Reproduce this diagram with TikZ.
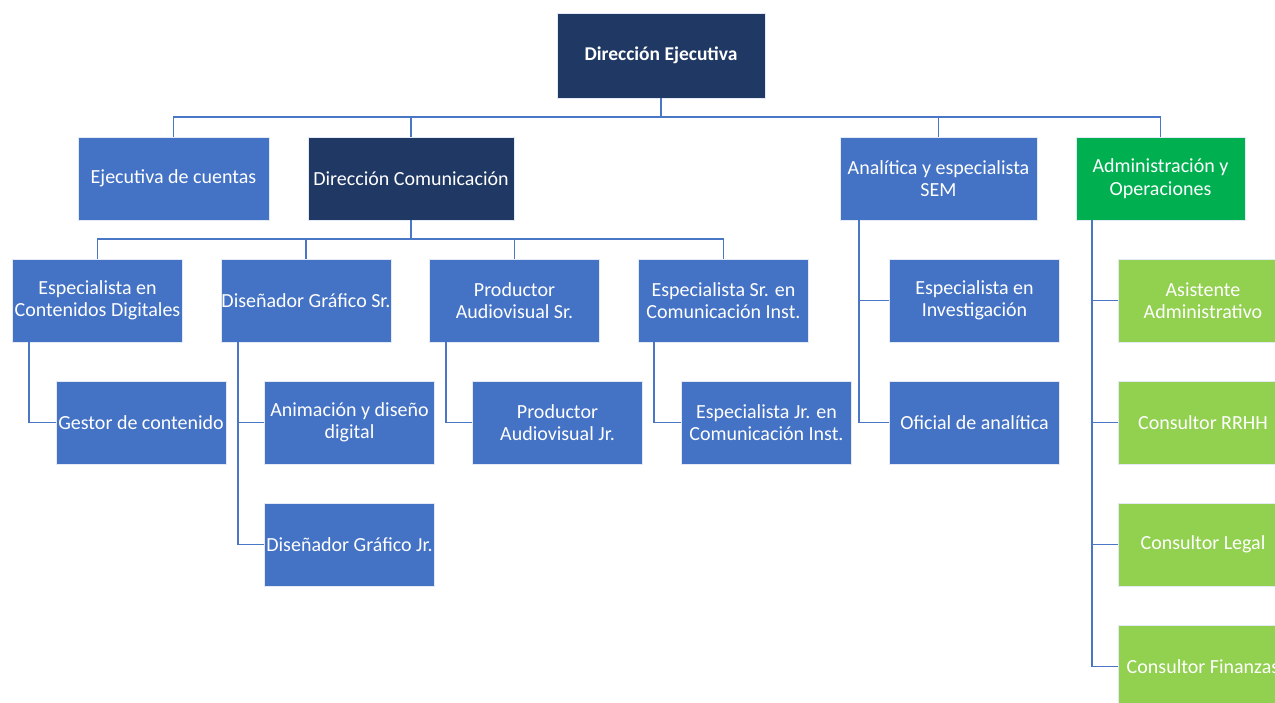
\documentclass[tikz,border=0pt]{standalone}
\usepackage{fontspec}
\setmainfont{Carlito}
\definecolor{navy}{HTML}{203864}
\definecolor{blu}{HTML}{4472C4}
\definecolor{grn}{HTML}{00B050}
\definecolor{lgrn}{HTML}{92D050}
\definecolor{lineblue}{HTML}{4A76C6}
\begin{document}
\begin{tikzpicture}[x=1pt,y=-1pt,
  box/.style={draw=white!85!blu, line width=0.8pt, text=white, align=center, inner sep=0pt,
    font=\fontsize{20}{22.5}\selectfont},
  bw/.style={box, minimum width=#1, minimum height=83},
  bluebox/.style={bw=170, fill=blu},
  navybox/.style={box, fill=navy},
  greenbox/.style={bw=170, fill=lgrn},
  conn/.style={draw=lineblue, line width=1.9pt}]
\useasboundingbox (0,0) rectangle (1275,702);
\clip (0,0) rectangle (1275,702);
% top
\node[navybox, minimum width=208, minimum height=85, font=\bfseries\fontsize{19.5}{22}\selectfont] (DE) at (661,55.5) {Dirección Ejecutiva};
\node[bw=191, fill=blu] (EC) at (173.5,178.5) {Ejecutiva de cuentas};
\node[navybox, minimum width=206, minimum height=83] (DC) at (411,178.5) {Dirección Comunicación};
\node[bw=197, fill=blu] (AN) at (938.5,178.5) {Analítica y especialista\\SEM};
\node[bw=169, fill=grn] (ADM) at (1160.5,178.5) {Administración y\\Operaciones};
% level 3
\node[bluebox] (ECD) at (97.5,300.5) {Especialista en\\Contenidos Digitales};
\node[bluebox] (DGS) at (306,300.5) {Diseñador Gráfico Sr.};
\node[bluebox] (PAS) at (514.5,300.5) {Productor\\Audiovisual Sr.};
\node[bluebox] (ESC) at (723.5,300.5) {Especialista Sr. en\\Comunicación Inst.};
\node[bluebox] (EI) at (974.5,300.5) {Especialista en\\Investigación};
% level 4
\node[bluebox] (GC) at (141,422.5) {Gestor de contenido};
\node[bluebox] (ADD) at (349.5,422.5) {Animación y diseño\\digital};
\node[bluebox] (PAJ) at (557.5,422.5) {Productor\\Audiovisual Jr.};
\node[bluebox] (EJC) at (766.5,422.5) {Especialista Jr. en\\Comunicación Inst.};
\node[bluebox] (OA) at (974.5,422.5) {Oficial de analítica};
\node[bluebox] (DGJ) at (349.5,544.5) {Diseñador Gráfico Jr.};
% green column
\node[greenbox] (AA) at (1203,300.5) {Asistente\\Administrativo};
\node[greenbox] (CR) at (1203,422.5) {Consultor RRHH};
\node[greenbox] (CL) at (1203,544.5) {Consultor Legal};
\node[greenbox] (CF) at (1203,666.5) {Consultor Finanzas};
% connectors
\coordinate (bus1) at (661,117);
\coordinate (bus2) at (411,239);
\draw[conn] (DE.south) -- (bus1);
\draw[conn] (EC.north) |- (bus1) -| (ADM.north);
\draw[conn] (DC.north) -- (DC.north |- bus1);
\draw[conn] (AN.north) -- (AN.north |- bus1);
\draw[conn] (DC.south) -- (bus2);
\draw[conn] (ECD.north) |- (bus2) -| (ESC.north);
\draw[conn] (DGS.north) -- (DGS.north |- bus2);
\draw[conn] (PAS.north) -- (PAS.north |- bus2);
\draw[conn] ([xshift=17]ECD.south west) |- (GC.west);
\draw[conn] ([xshift=17]DGS.south west) |- (ADD.west);
\draw[conn] ([xshift=17]DGS.south west) |- (DGJ.west);
\draw[conn] ([xshift=17]PAS.south west) |- (PAJ.west);
\draw[conn] ([xshift=16]ESC.south west) |- (EJC.west);
\draw[conn] ([xshift=19]AN.south west) |- (EI.west);
\draw[conn] ([xshift=19]AN.south west) |- (OA.west);
\draw[conn] ([xshift=16]ADM.south west) |- (AA.west);
\draw[conn] ([xshift=16]ADM.south west) |- (CR.west);
\draw[conn] ([xshift=16]ADM.south west) |- (CL.west);
\draw[conn] ([xshift=16]ADM.south west) |- (CF.west);
\end{tikzpicture}
\end{document}
